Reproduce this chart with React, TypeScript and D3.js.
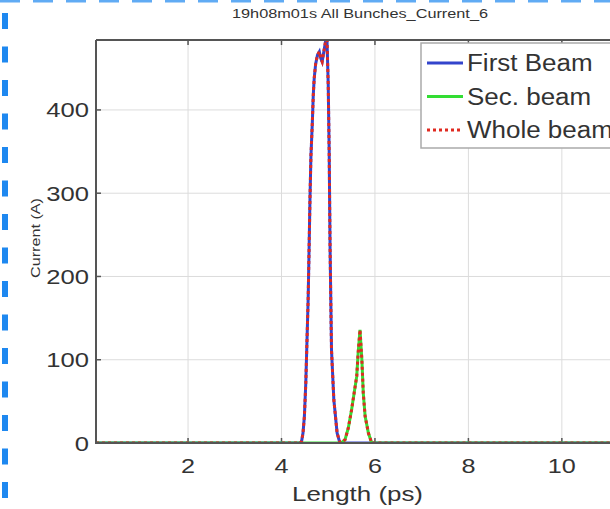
import React from "react";
import * as d3 from "d3";

// ---- data ----
const title = "19h08m01s All Bunches_Current_6";
const xLabel = "Length (ps)";
const yLabel = "Current (A)";
const xTicks = [2, 4, 6, 8, 10];
const yTicks = [0, 100, 200, 300, 400];
const legendLabels = ["First Beam", "Sec. beam", "Whole beam"];

const firstX = [0.03, 4.4, 4.43, 4.46, 4.49, 4.52, 4.54, 4.57, 4.59, 4.61, 4.63, 4.66, 4.68, 4.7, 4.73, 4.77, 4.81, 4.84, 4.87, 4.9, 4.93, 4.97, 5.0, 5.02, 5.04, 5.07, 5.12, 5.19, 5.25, 11.5];
const firstV = [0, 0, 2, 12, 32, 72, 112, 172, 232, 295, 345, 385, 418, 438, 455, 466, 470, 462, 458, 468, 478, 492, 430, 352, 232, 112, 52, 12, 0, 0];

const secX = [0.03, 5.2, 5.3, 5.36, 5.43, 5.5, 5.56, 5.61, 5.64, 5.68, 5.72, 5.75, 5.79, 5.86, 5.93, 11.5];
const secV = [0, 0, 1, 4, 18, 40, 62, 80, 108, 136, 100, 60, 32, 12, 0, 0];

const wholeX = [0.03, 4.4, 4.43, 4.46, 4.49, 4.52, 4.54, 4.57, 4.59, 4.61, 4.63, 4.66, 4.68, 4.7, 4.73, 4.77, 4.81, 4.84, 4.87, 4.9, 4.93, 4.97, 5.0, 5.02, 5.04, 5.07, 5.12, 5.19, 5.25, 5.3, 5.36, 5.43, 5.5, 5.56, 5.61, 5.64, 5.68, 5.72, 5.75, 5.79, 5.86, 5.93, 11.5];
const wholeV = [0, 0, 2, 12, 32, 72, 112, 172, 232, 295, 345, 385, 418, 438, 455, 466, 470, 462, 458, 468, 478, 492, 430, 352, 232, 112, 52, 12, 1, 1, 4, 18, 40, 62, 80, 108, 136, 100, 60, 32, 12, 0, 0];

const W = 610;
const H = 509;
const L = 96, R = 624, T = 40, B = 443;

export default function App() {
  const x = d3.scaleLinear().domain([0.03, 11.33]).range([L, R]);
  const y = d3.scaleLinear().domain([0, 484]).range([B, T]);
  const line = d3
    .line<[number, number]>()
    .x((d) => x(d[0]))
    .y((d) => y(d[1]));
  const pts = (xs: number[], vs: number[]) => xs.map((v, i) => [v, vs[i]] as [number, number]);

  const font = "'Liberation Sans', Arial, Helvetica, sans-serif";
  const txt = "#333";
  const axisC = "#555";
  const colors = ["#3344cc", "#33dd33", "#e02a20"];

  return (
    <svg width={W} height={H} style={{ position: "absolute", left: 0, top: 0 }} fontFamily={font}>
      <rect x={0} y={0} width={W} height={H} fill="#fff" />
      {/* selection border */}
      <line x1={5} x2={5} y1={13} y2={H} stroke="#1e88f0" strokeWidth={6} strokeDasharray="16,17.5" />
      <line x1={0} x2={W} y1={0} y2={0} stroke="#1e88f0" strokeWidth={5} strokeDasharray="20,13" opacity={0.7} />

      <text x={360} y={18} fontSize={12} fill={txt} textAnchor="middle" textLength={256} lengthAdjust="spacingAndGlyphs">
        {title}
      </text>

      <defs>
        <clipPath id="pc">
          <rect x={L} y={T} width={R - L} height={B - T} />
        </clipPath>
      </defs>

      {/* grid */}
      {xTicks.map((t) => (
        <line key={"gx" + t} x1={x(t)} x2={x(t)} y1={T} y2={B} stroke="#dcdcdc" strokeWidth={1} />
      ))}
      {yTicks.filter((t) => t > 0).map((t) => (
        <line key={"gy" + t} x1={L} x2={R} y1={y(t)} y2={y(t)} stroke="#dcdcdc" strokeWidth={1} />
      ))}

      {/* ticks */}
      {xTicks.map((t) => (
        <g key={"tx" + t}>
          <line x1={x(t)} x2={x(t)} y1={B} y2={B - 5} stroke={axisC} strokeWidth={1.5} />
          <line x1={x(t)} x2={x(t)} y1={T} y2={T + 5} stroke={axisC} strokeWidth={1.5} />
          <text transform={`translate(${x(t)},473) scale(1.2,1)`} fontSize={21} fill={txt} textAnchor="middle">
            {t}
          </text>
        </g>
      ))}
      {yTicks.map((t) => (
        <g key={"ty" + t}>
          <line x1={L} x2={L + 5} y1={y(t)} y2={y(t)} stroke={axisC} strokeWidth={1.5} />
          <text transform={`translate(89,${y(t) + 7.5}) scale(1.22,1)`} fontSize={21} fill={txt} textAnchor="end">
            {t}
          </text>
        </g>
      ))}

      {/* curves */}
      <g clipPath="url(#pc)">
        <path d={line(pts(firstX, firstV)) || ""} fill="none" stroke={colors[0]} strokeWidth={3} />
        <path d={line(pts(secX, secV)) || ""} fill="none" stroke={colors[1]} strokeWidth={3} />
        <path d={line(pts(wholeX, wholeV)) || ""} fill="none" stroke={colors[2]} strokeWidth={3} strokeDasharray="3,3" />
      </g>

      {/* box */}
      <path d={`M${L},${T} H${R} M${L},${T} V${B} H${R}`} fill="none" stroke={axisC} strokeWidth={2} />

      <text x={292} y={501} fontSize={21} fill={txt} textLength={131} lengthAdjust="spacingAndGlyphs">
        {xLabel}
      </text>
      <text
        transform={`translate(40,238) rotate(-90)`}
        fontSize={13}
        fill={txt}
        textAnchor="middle"
        textLength={80}
        lengthAdjust="spacingAndGlyphs"
      >
        {yLabel}
      </text>

      {/* legend */}
      <rect x={421} y={43} width={220} height={105} fill="#fff" stroke="#aaa" strokeWidth={1.5} />
      {legendLabels.map((lab, i) => (
        <g key={lab}>
          <line
            x1={427}
            x2={463}
            y1={63 + i * 33.5}
            y2={63 + i * 33.5}
            stroke={colors[i]}
            strokeWidth={3}
            strokeDasharray={i === 2 ? "3,3" : undefined}
          />
          <text transform={`translate(467,${63 + i * 33.5 + 8}) scale(1.13,1)`} fontSize={23} fill={txt}>
            {lab}
          </text>
        </g>
      ))}
    </svg>
  );
}
